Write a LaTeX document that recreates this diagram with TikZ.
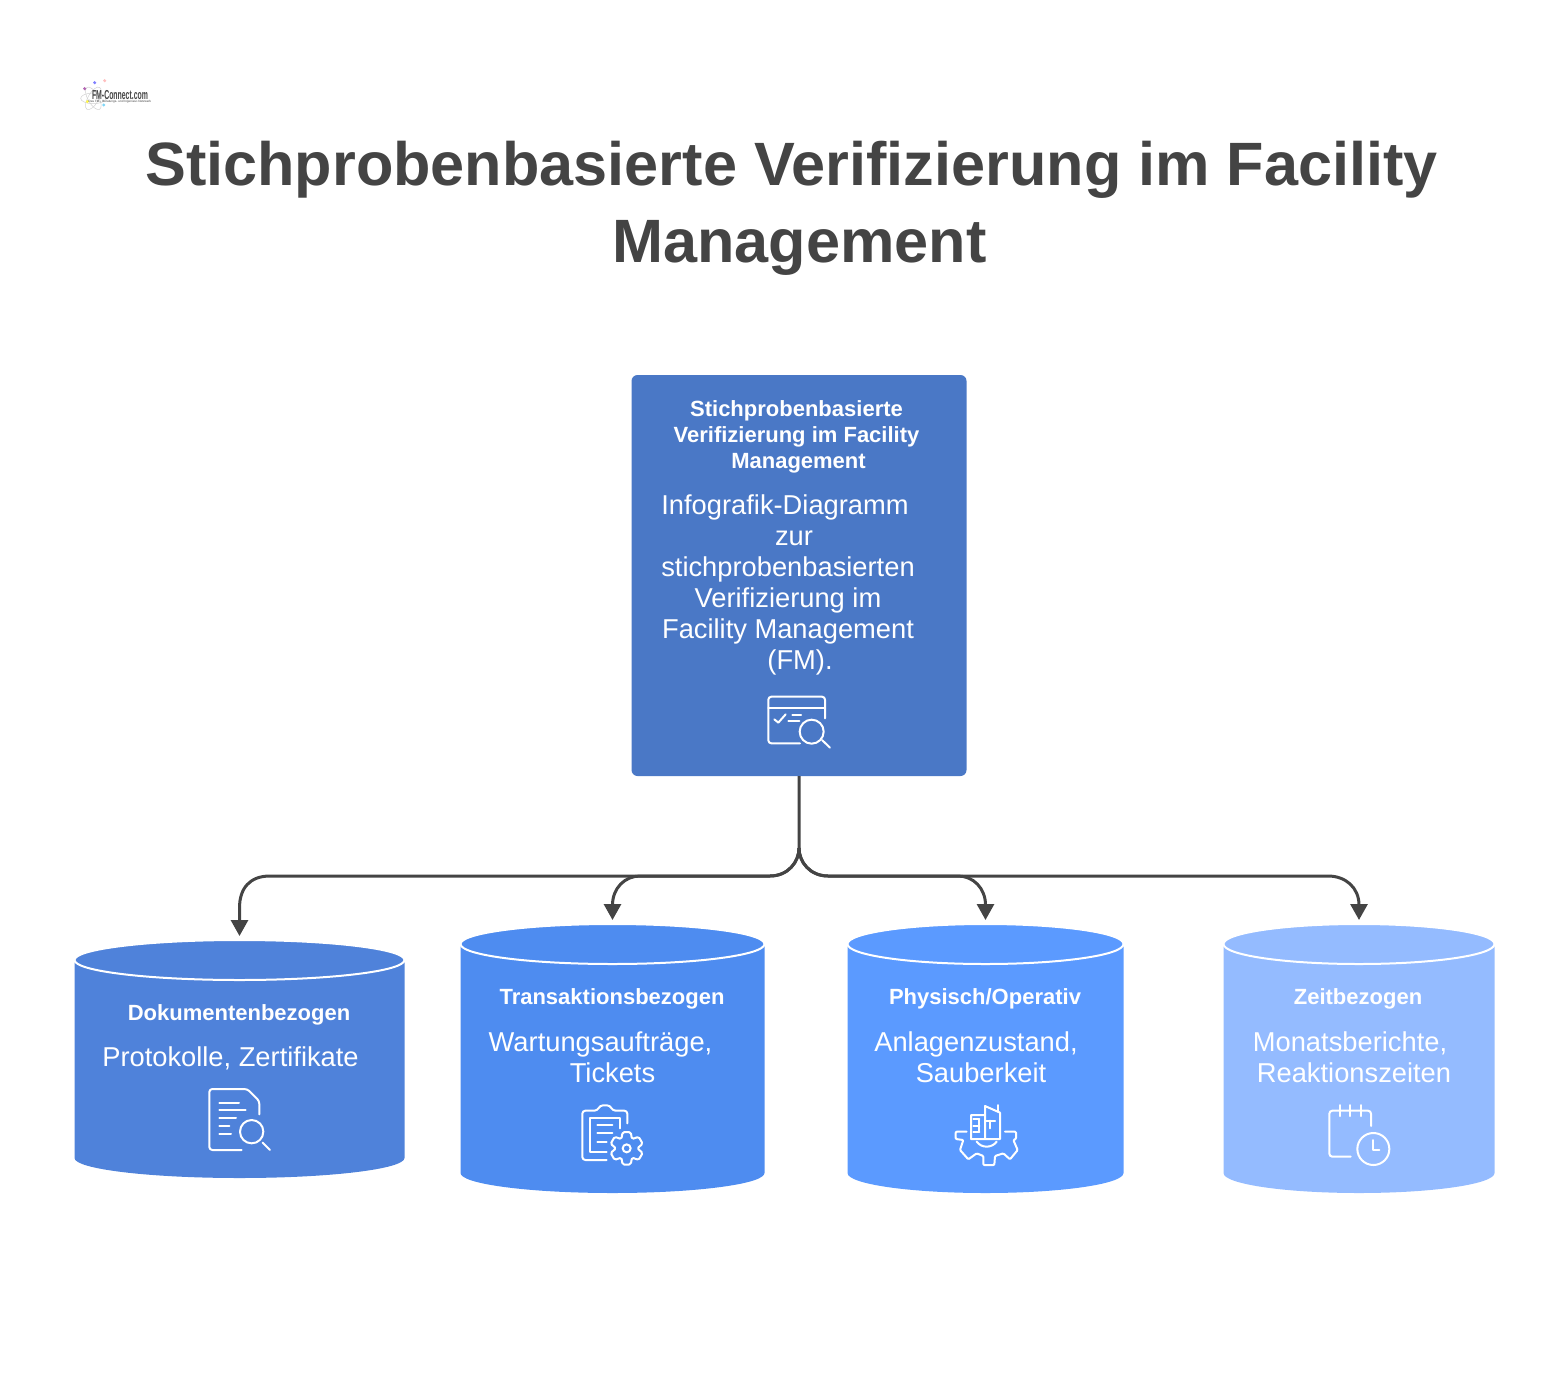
\documentclass[tikz,border=0pt]{standalone}
\usepackage{fontspec}
\setmainfont{Liberation Sans}
\usetikzlibrary{arrows.meta}
\definecolor{text_gray}{RGB}{68,68,68}
\definecolor{root_blue}{RGB}{74,120,198}
\definecolor{doc_blue}{RGB}{79,130,218}
\definecolor{trans_blue}{RGB}{78,140,240}
\definecolor{phys_blue}{RGB}{91,154,255}
\definecolor{time_blue}{RGB}{148,187,255}
% name, colour, centre x, half width, top, bottom, end radius
\newcommand{\drum}[7]{
    \node[minimum width={2*#4}, minimum height={#6-#5}, inner sep=0pt, outer sep=0pt] (#1) at (#3,{(#5+#6)/2}) {};
    \fill[#2] ({#3-#4},{#5+#7}) -- ({#3-#4},{#6-#7})
      .. controls ({#3-#4},{#6-0.45*#7}) and ({#3-0.55*#4},#6) .. (#3,#6)
      .. controls ({#3+0.55*#4},#6) and ({#3+#4},{#6-0.45*#7}) .. ({#3+#4},{#6-#7})
      -- ({#3+#4},{#5+#7}) -- cycle;
    \draw[fill=#2, draw=white, line width=2pt] (#3,{#5+#7}) ellipse ({#4} and {#7});
}

\begin{document}
\begin{tikzpicture}[x=1pt,y=-1pt,line join=round]
    \tikzstyle{head}=[text=white, align=center, font=\bfseries\fontsize{22}{26}\selectfont]
    \tikzstyle{body}=[text=white, align=center, font=\fontsize{27.3}{31}\selectfont]
    \tikzstyle{link}=[draw=text_gray, line width=3pt, -{Triangle[length=16pt,width=17pt]}]
    \tikzstyle{icon}=[draw=white, line width=2pt, line cap=round, fill=none]

    \useasboundingbox (0,0) rectangle (1558,1397);

    % logo
    \begin{scope}[shift={(60,60)},scale=1/3]
      \draw[black!18, line width=0.5pt] (100,115) ellipse (38 and 16);
      \draw[black!18, line width=0.5pt, rotate around={60:(100,115)}] (100,115) ellipse (38 and 16);
      \draw[black!18, line width=0.5pt, rotate around={-60:(100,115)}] (100,115) ellipse (38 and 16);
      \fill[violet!60] (74,86) circle (5);
      \fill[blue!50] (104,68) circle (5);
      \fill[red!25] (134,62) circle (5);
      \fill[yellow!70] (82,125) circle (5);
      \fill[cyan!50] (131,135) circle (5);
    \end{scope}
    \node[text=text_gray, font=\bfseries\fontsize{10}{10}\selectfont, inner sep=0pt] (logo) at (120,95) {\scalebox{0.69}[1.3]{FM-Connect.com}};
    \node[text=text_gray, font=\fontsize{3.1}{4}\selectfont, inner sep=0pt] (claim) at (120,102) {Das FM-, Beratungs- und Ingenieur-Netzwerk};

    \node[text=text_gray, align=center, font=\bfseries\fontsize{61.2}{77}\selectfont] (title) at (791.5,208)
      {Stichprobenbasierte Verifizierung im Facility\\\hspace*{16pt}Management};

    \node[fill=root_blue, rounded corners=6pt, minimum width=335pt, minimum height=401pt, inner sep=0pt, outer sep=0pt] (root) at (799,575.5) {};
    \node[head] (roothead) at (796.5,437) {Stichprobenbasierte\\Verifizierung im Facility\\\hspace*{4pt}Management};
    \node[body] (rootbody) at (788,585) {Infografik-Diagramm\hspace*{6pt}\\\hspace*{12pt}zur\\stichprobenbasierten\\Verifizierung im\\Facility Management\\\hspace*{24pt}(FM).};

    \drum{doc}{doc_blue}{239.5}{165}{940}{1178}{20}
    \drum{trans}{trans_blue}{612.5}{152}{924}{1193}{20}
    \drum{phys}{phys_blue}{985.5}{138}{924}{1193}{20}
    \drum{time}{time_blue}{1359}{135.5}{924}{1193}{20}

    \node[head] (dochead) at (239,1015) {Dokumentenbezogen};
    \node[body] (docbody) at (230.5,1058) {Protokolle, Zertifikate};
    \node[head] (transhead) at (612,999) {Transaktionsbezogen};
    \node[body] (transbody) at (600.5,1057) {Wartungsaufträge,\\\hspace*{24pt}Tickets};
    \node[head] (physhead) at (985,999) {Physisch/Operativ};
    \node[body] (physbody) at (976,1057) {Anlagenzustand,\\\hspace*{10pt}Sauberkeit};
    \node[head] (timehead) at (1358,999) {Zeitbezogen};
    \node[body] (timebody) at (1350,1057) {Monatsberichte,\\\hspace*{8pt}Reaktionszeiten};

    \coordinate (fork) at (799,848);
    \draw[link, shorten >=4pt] (root.south) -- (fork) .. controls (799,862) and (788,876) .. (770,876) -- (270,876) .. controls (250,876) and (239.5,888) .. (239.5,908) -- (doc.north);
    \draw[link, shorten >=4pt] (fork) .. controls (799,862) and (788,876) .. (770,876) -- (640,876) .. controls (625,876) and (612.5,888) .. (612.5,905) -- (trans.north);
    \draw[link, shorten >=4pt] (fork) .. controls (799,862) and (810,876) .. (828,876) -- (958,876) .. controls (973,876) and (985.5,888) .. (985.5,905) -- (phys.north);
    \draw[link, shorten >=4pt] (fork) .. controls (799,862) and (810,876) .. (828,876) -- (1328,876) .. controls (1346,876) and (1359,888) .. (1359,905) -- (time.north);

    % window with lens
    \begin{scope}[shift={(740,680)},scale=1/3]
      \draw[icon, rounded corners=3pt] (255,115) -- (255,50) -- (85,50) -- (85,190) -- (180,190);
      \draw[icon] (85,85) -- (255,85);
      \draw[icon] (103,118) -- (115,128) -- (137,103);
      \draw[icon] (157,105) -- (183,105) (145,123) -- (178,123);
      \draw[icon] (215,155) circle (36);
      \draw[icon] (246,180) -- (270,203);
    \end{scope}
    % paper with lens
    \begin{scope}[shift={(190,1075)},scale=1/3]
      \draw[icon, rounded corners=3pt] (208,118) -- (208,78) -- (172,42) -- (58,42) -- (58,225) -- (155,225);
      \draw[icon] (88,83) -- (147,83) (88,105) -- (167,105) (88,130) -- (138,130) (88,153) -- (118,153) (88,177) -- (123,177);
      \draw[icon] (185,170) circle (35);
      \draw[icon] (218,203) -- (240,225);
    \end{scope}
    % board with gear
    \begin{scope}[shift={(565,1090)},scale=1/3]
      \draw[icon, rounded corners=3pt] (187,100) -- (187,62) -- (143,62) -- (135,46) -- (105,46) -- (97,62) -- (52,62) -- (52,210) -- (125,210);
      \draw[icon] (165,115) -- (165,85) -- (75,85) -- (75,185) -- (125,185);
      \draw[icon] (97,105) -- (142,105) (97,130) -- (142,130) (97,155) -- (125,155);
      \draw[icon] (185,175) circle (12);
      \begin{scope}[shift={(185,175)}]
        \draw[icon, rounded corners=1.5pt] (76:50) \foreach \a in {90,150,210,270,330,390} {
          -- (\a-14:50) -- (\a+14:50) -- (\a+30:32)} -- cycle;
      \end{scope}
    \end{scope}
    % gear with buildings
    \begin{scope}[shift={(935,1090)},scale=1/3]
      \draw[icon, rounded corners=1pt] (95,125) -- (62,125) -- (62,147) -- (85,150) -- (75,180) -- (100,208) -- (125,190) -- (145,198) -- (145,225) -- (178,225) -- (180,198) -- (205,190) -- (225,208) -- (248,180) -- (235,150) -- (243,147) -- (243,125) -- (210,125);
      \draw[icon] (125,155) .. controls (140,175) and (170,175) .. (185,155);
      \draw[icon] (150,75) -- (108,75) -- (108,147) -- (195,147) -- (195,68) -- (150,48) -- (150,147);
      \draw[icon] (115,88) -- (133,88) (115,107) -- (133,107) (115,125) -- (133,125) (133,88) -- (133,125);
      \draw[icon] (150,92) -- (180,92) (165,92) -- (165,115);
      \draw[icon] (190,45) -- (190,62);
    \end{scope}
    % calendar with clock
    \begin{scope}[shift={(1310,1090)},scale=1/3]
      \draw[icon, rounded corners=3pt] (183,108) -- (183,62) -- (58,62) -- (58,200) -- (122,200);
      \draw[icon] (90,45) -- (90,78) (120,45) -- (120,78) (152,45) -- (152,78);
      \draw[icon] (190,177) circle (48);
      \draw[icon] (190,150) -- (190,180) -- (208,180);
    \end{scope}
\end{tikzpicture}
\end{document}
